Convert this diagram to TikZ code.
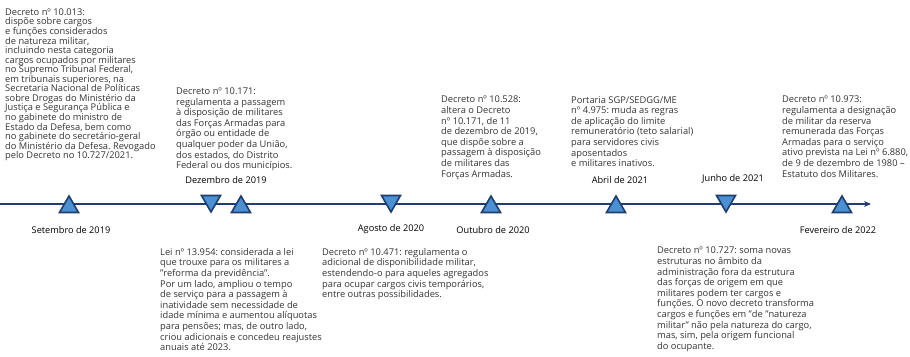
\documentclass[tikz,border=0pt]{standalone}
\usepackage{fontspec}
\setmainfont{Open Sans}
\usetikzlibrary{shapes.geometric,arrows.meta}
\frenchspacing

\definecolor{navy}{HTML}{1F3D6E}
\definecolor{trifill}{HTML}{4A90D2}
\definecolor{txtgrey}{HTML}{333333}

\tikzset{
  note/.style={anchor=north west, align=left, inner sep=0pt, text=txtgrey,
    font=\fontsize{9.3}{10.6}\selectfont},
  datelbl/.style={inner sep=0pt, text=black, font=\fontsize{9.2}{10}\selectfont},
  tri/.style={regular polygon, regular polygon sides=3, draw=navy, fill=trifill,
    line width=1.6pt, inner sep=0pt, minimum size=22pt},
  uptri/.style={tri},
  downtri/.style={tri, shape border rotate=180},
}

\begin{document}
\begin{tikzpicture}[x=1pt, y=-1pt]
    \useasboundingbox (0,0) rectangle (910,356);

    % the time axis
    \coordinate (axisstart) at (0,204);
    \coordinate (axisend) at (871,204);
    \draw[navy, line width=2.2pt, -{Stealth[length=7pt,width=6pt]}] (axisstart) -- (axisend);

    % markers: up = above the axis, down = below the axis
    \node[uptri] (sep19) at (69,207) {};
    \node[downtri] (dez19a) at (211,201) {};
    \node[uptri] (dez19b) at (241,207) {};
    \node[downtri] (ago20) at (391,201) {};
    \node[uptri] (out20) at (491,207) {};
    \node[uptri] (abr21) at (616,207) {};
    \node[downtri] (jun21) at (726,201) {};
    \node[uptri] (fev22) at (842,207) {};

    % dates
    \node[datelbl] (lblsep19) at (71,230) {Setembro de 2019};
    \node[datelbl] (lbldez19) at (226,180) {Dezembro de 2019};
    \node[datelbl] (lblago20) at (391,229) {Agosto de 2020};
    \node[datelbl] (lblout20) at (493,230) {Outubro de 2020};
    \node[datelbl] (lblabr21) at (620,180) {Abril de 2021};
    \node[datelbl] (lbljun21) at (733,179) {Junho de 2021};
    \node[datelbl] (lblfev22) at (838,230) {Fevereiro de 2022};

    % texts above the axis
    \node[note, font=\fontsize{9.3}{9.55}\selectfont] (txt10013) at (5,8.5) {Decreto nº 10.013:\\
        dispõe sobre cargos\\
        e funções considerados\\
        de natureza militar,\\
        incluindo nesta categoria\\
        cargos ocupados por militares\\
        no Supremo Tribunal Federal,\\
        em tribunais superiores, na\\
        Secretaria Nacional de Políticas\\
        sobre Drogas do Ministério da\\
        Justiça e Segurança Pública e\\
        no gabinete do ministro de\\
        Estado da Defesa, bem como\\
        no gabinete do secretário-geral\\
        do Ministério da Defesa. Revogado\\
        pelo Decreto no 10.727/2021.};
    \node[note] (txt10171) at (176,87.5) {Decreto nº 10.171:\\
        regulamenta a passagem\\
        à disposição de militares\\
        das Forças Armadas para\\
        órgão ou entidade de\\
        qualquer poder da União,\\
        dos estados, do Distrito\\
        Federal ou dos municípios.};
    \node[note] (txt10528) at (441,96) {Decreto nº 10.528:\\
        altera o Decreto\\
        nº 10.171, de 11\\
        de dezembro de 2019,\\
        que dispõe sobre a\\
        passagem à disposição\\
        de militares das\\
        Forças Armadas.};
    \node[note] (txt4975) at (571,96) {Portaria SGP/SEDGG/ME\\
        nº 4.975: muda as regras\\
        de aplicação do limite\\
        remuneratório (teto salarial)\\
        para servidores civis\\
        aposentados\\
        e militares inativos.};
    \node[note] (txt10973) at (782,96) {Decreto nº 10.973:\\
        regulamenta a designação\\
        de militar da reserva\\
        remunerada das Forças\\
        Armadas para o serviço\\
        ativo prevista na Lei nº 6.880,\\
        de 9 de dezembro de 1980 –\\
        Estatuto dos Militares.};

    % texts below the axis
    \node[note] (txt13954) at (160,248) {Lei nº 13.954: considerada a lei\\
        que trouxe para os militares a\\
        "reforma da previdência".\\
        Por um lado, ampliou o tempo\\
        de serviço para a passagem à\\
        inatividade sem necessidade de\\
        idade mínima e aumentou alíquotas\\
        para pensões; mas, de outro lado,\\
        criou adicionais e concedeu reajustes\\
        anuais até 2023.};
    \node[note] (txt10471) at (322,248) {Decreto nº 10.471: regulamenta o\\
        adicional de disponibilidade militar,\\
        estendendo-o para aqueles agregados\\
        para ocupar cargos civis temporários,\\
        entre outras possibilidades.};
    \node[note] (txt10727) at (657,247) {Decreto nº 10.727: soma novas\\
        estruturas no âmbito da\\
        administração fora da estrutura\\
        das forças de origem em que\\
        militares podem ter cargos e\\
        funções. O novo decreto transforma\\
        cargos e funções em "de "natureza\\
        militar" não pela natureza do cargo,\\
        mas, sim, pela origem funcional\\
        do ocupante.};
\end{tikzpicture}
\end{document}
